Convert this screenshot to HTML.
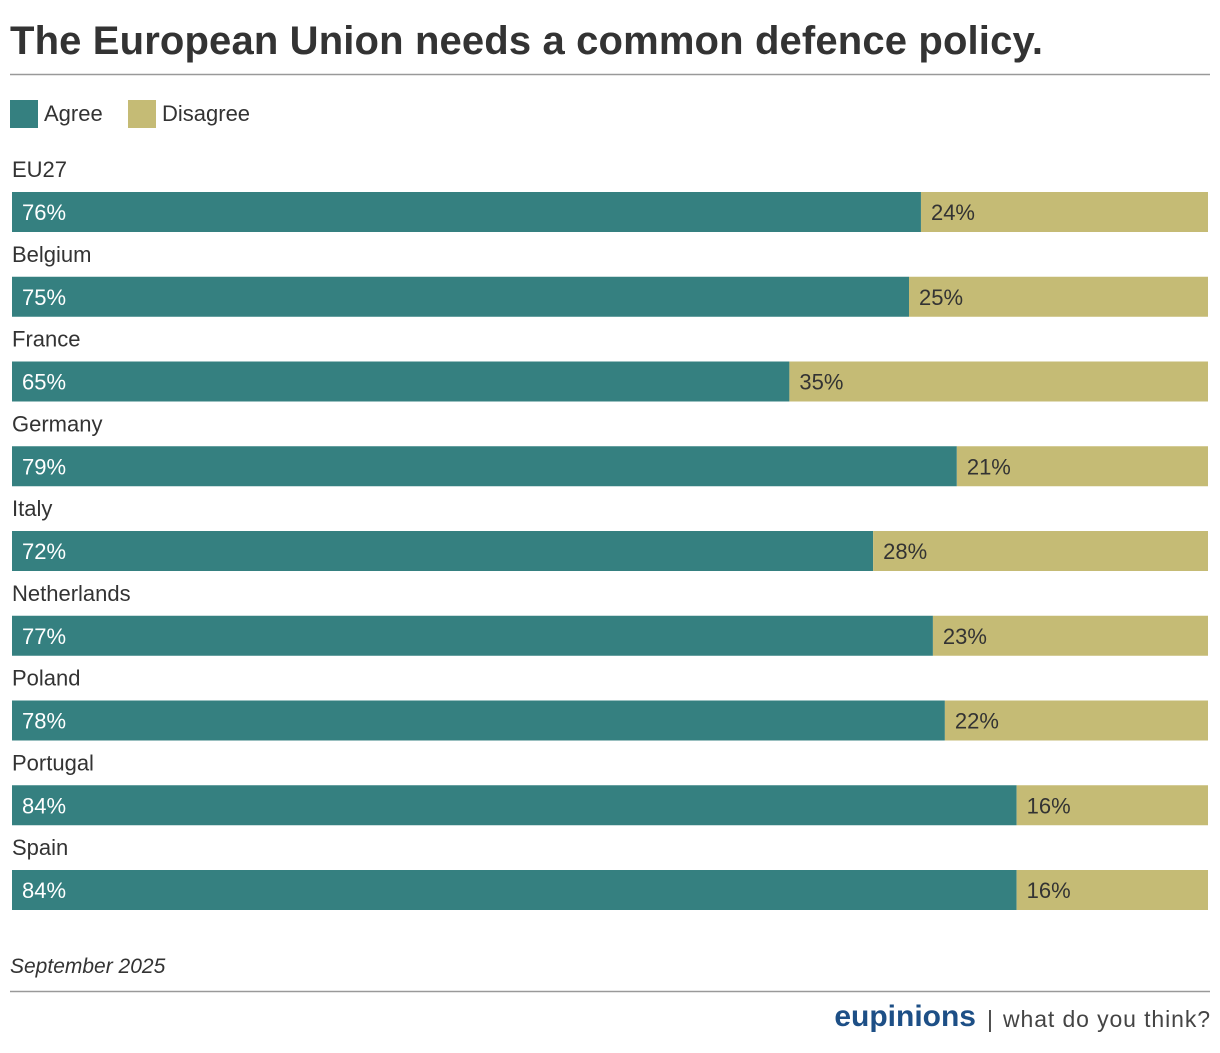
<!DOCTYPE html>
<html><head><meta charset="utf-8">
<style>
body{margin:0;background:#fff;width:1220px;height:1048px;overflow:hidden;font-family:"Liberation Sans",sans-serif;}
</style></head>
<body>
<svg id="chart" width="1220" height="1048" xmlns="http://www.w3.org/2000/svg" font-family="Liberation Sans, sans-serif">
<text x="10" y="54" font-size="40" font-weight="bold" fill="#333" textLength="1033" lengthAdjust="spacing">The European Union needs a common defence policy.</text>
<line x1="10" y1="74.5" x2="1210" y2="74.5" stroke="#999" stroke-width="1.5"/>
<rect x="10" y="100" width="28" height="28" fill="#358080"/>
<text x="44" y="121" font-size="22" fill="#333">Agree</text>
<rect x="128" y="100" width="28" height="28" fill="#c5bb75"/>
<text x="162" y="121" font-size="22" fill="#333">Disagree</text>
<g id="bars"></g>
<text x="10" y="973" font-size="21" font-style="italic" fill="#333">September 2025</text>
<line x1="10" y1="991.5" x2="1210" y2="991.5" stroke="#999" stroke-width="1.5"/>
<text x="976" y="1026" font-size="30" font-weight="bold" fill="#1d4f86" text-anchor="end">eupinions</text>
<text x="987" y="1027" font-size="23" fill="#444">|</text>
<text x="1003" y="1027" font-size="23" fill="#444" textLength="207" lengthAdjust="spacing">what do you think?</text>
</svg>
<script>
const categories = ["EU27","Belgium","France","Germany","Italy","Netherlands","Poland","Portugal","Spain"];
const agree = [76,75,65,79,72,77,78,84,84];
const disagree = [24,25,35,21,28,23,22,16,16];

const NS = "http://www.w3.org/2000/svg";
const g = document.getElementById("bars");
const x0 = 12, x1 = 1208;
const xs = v => x0 + (x1 - x0) * v / 100;
const rowTop = i => 192 + i * 84.75;
function mk(tag, attrs){const e=document.createElementNS(NS,tag);for(const k in attrs)e.setAttribute(k,attrs[k]);return e;}
categories.forEach((c,i)=>{
  const y = rowTop(i);
  const total = agree[i] + disagree[i];
  const lab = mk("text",{x:12,y:y-15,"font-size":22,fill:"#333"});
  
  
  lab.textContent = c; g.appendChild(lab);
  const a = mk("rect",{x:xs(0),y:y,width:xs(agree[i]/total*100)-xs(0),height:40,fill:"#358080"});
  
  
  g.appendChild(a);
  const d = mk("rect",{x:xs(agree[i]/total*100),y:y,width:xs(100)-xs(agree[i]/total*100),height:40,fill:"#c5bb75"});
  
  
  g.appendChild(d);
  const at = mk("text",{x:xs(0)+10,y:y+28,"font-size":22,fill:"#fff"});
  
  
  at.textContent = agree[i]+"%"; g.appendChild(at);
  const dt = mk("text",{x:xs(agree[i]/total*100)+10,y:y+28,"font-size":22,fill:"#333"});
  
  
  dt.textContent = disagree[i]+"%"; g.appendChild(dt);
});
</script>
</body></html>
